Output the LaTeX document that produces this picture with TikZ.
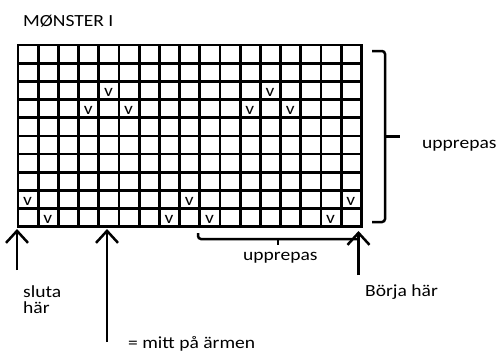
\documentclass[tikz,border=0pt]{standalone}
\usepackage{fontspec}
\setmainfont{Carlito}[FakeStretch=1.15]
\usetikzlibrary{positioning}
\usetikzlibrary{arrows.meta}

\begin{document}
\begin{tikzpicture}[x=1pt, y=-1pt,
    gridline/.style={line width=2.7pt, line cap=rect},
    bracketline/.style={line width=2.5pt, rounded corners=3pt},
    uparrow/.style={line width=2.5pt, -{Straight Barb[length=12pt, width=22pt]}},
    textnode/.style={anchor=base west, inner sep=0pt, font=\fontsize{17}{16}\selectfont, align=left},
    stitchnode/.style={anchor=base west, inner sep=0pt, font=\fontsize{17}{16}\selectfont},
  ]
  \useasboundingbox (0,0) rectangle (503,351);

  %Title
  \node[textnode] (title) at (23,26) {MØNSTER I};

  %Grid, 17 columns and 10 rows
  \foreach \i in {0,...,17}
    \draw[gridline] ({18+\i*20.2},45) -- ({18+\i*20.2},226.7);
  \foreach \j in {0,...,10}
    \draw[gridline] (18,{45+\j*18.17}) -- (361.4,{45+\j*18.17});

  %Stitches
  \foreach \r/\c in {3/5,3/13,4/4,4/6,4/12,4/14,9/1,9/9,9/17,10/2,10/8,10/10,10/16}
    \node[stitchnode] (v\r-\c) at ({18+(\c-1)*20.2+5},{45+\r*18.17-3}) {v};

  %Arrow ends
  \coordinate (tipL)  at (17,229);
  \coordinate (tailL) at (17,270);
  \coordinate (tipM)  at (107,229);
  \coordinate (tailM) at (107,342);
  \coordinate (tipR)  at (358.5,231);
  \coordinate (tailR) at (358.5,275);

  %Arrows
  \draw[uparrow] (tailL) -- (tipL);
  \draw[uparrow] (tailM) -- (tipM);
  \draw[uparrow] (tailR) -- (tipR);

  %Brackets
  \coordinate (rowsTop) at (372,51);
  \coordinate (rowsBot) at (372,222);
  \coordinate (rowsMid) at (400,136.5);
  \draw[bracketline] (rowsTop) -- (385,51) -- (385,222) -- (rowsBot);
  \draw[bracketline] (385,136.5) -- (rowsMid);
  \coordinate (colsLeft) at (198,233);
  \coordinate (colsMid)  at (278,245);
  \draw[bracketline] (colsLeft) -- (198,239) -- (358.5,239);
  \draw[bracketline] (278,239) -- (colsMid);

  %Labels
  \node[textnode] (repeatRows) at (422,148) {upprepas};
  \node[textnode] (repeatCols) at (243,260) {upprepas};
  \node[textnode] (endHere)    at (23,313)  {sluta\\här};
  \node[textnode] (startHere)  at (365,296) {Börja här};
  \node[textnode] (midSleeve)  at (128,348) {= mitt på ärmen};
\end{tikzpicture}
\end{document}
